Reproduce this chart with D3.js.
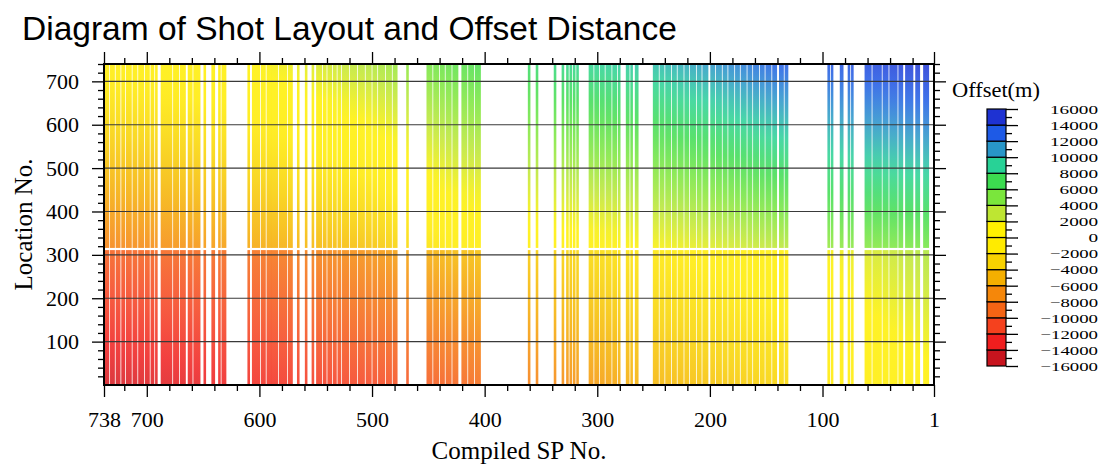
<!DOCTYPE html>
<html>
<head>
<meta charset="utf-8">
<script src="https://cdn.jsdelivr.net/npm/d3@7"></script>
<style>
body { margin: 0; background: #fff; }
text { font-family: "Liberation Serif", "Times New Roman", serif; fill: #000; }
.title { font-family: "Liberation Sans", Arial, sans-serif; }
</style>
</head>
<body>
<svg id="chart" width="1109" height="468"></svg>
<script>
// shots actually fired, as runs of consecutive SP numbers [first, last]
var shotRuns = [
    [738,734],[732,729],[727,724],[722,720],[718,714],[712,709],[707,703],[701,698],[696,694],[692,691],
    [687,678],[676,672],[670,666],[663,660],[658,653],
    [649,648],[642,640],[636,635],[633,630],
    [610,609],[606,600],[598,595],[593,590],[589,584],[582,576],[574,571],
    [566,565],[559,558],[553,552],
    [549,545],[543,541],[539,536],[534,532],[530,528],
    [526,521],[519,514],[512,507],[505,501],[499,496],[494,489],[487,483],[481,478],
    [469,468],
    [451,447],[445,441],[439,436],[434,430],[428,424],[420,416],[414,410],[408,404],
    [361,360],[354,353],
    [338,337],[331,330],[327,326],[324,323],[321,320],[318,317],
    [307,304],[302,299],[297,294],[292,288],[286,283],[281,280],[274,272],[270,269],[266,264],
    [250,246],[244,241],[239,235],[233,230],[228,224],[222,219],[217,213],[211,208],[206,202],
    [199,196],[194,190],[188,185],[183,179],[177,174],[172,168],[166,163],[161,157],[155,152],
    [150,146],[144,141],[138,135],[133,131],
    [95,94],[92,91],[84,82],[77,76],[74,73],
    [62,57],[55,48],[46,42],[40,34],[32,29],[26,20],[17,14],[10,6]
];

// offsets (m) read at a few SPs, at the bottom, either side of the location gap and the top
var anchorSP    = [738, 650, 600, 500, 430, 330, 260, 200, 140, 85, 30];
var offBottom   = [-14500, -13500, -12500, -11000, -9500, -7000, -5000, -4000, -3000, -1000, 0];
var offBelowGap = [-9500, -9000, -8500, -6500, -4500, -3000, -1500, -500, 500, 1500, 3000];
var offAboveGap = [-7500, -6500, -5500, -4000, -1000, 0, 1000, 2000, 3000, 4500, 5000];
var offTop      = [-500, 300, 1000, 3500, 6000, 8500, 9500, 11000, 13000, 13500, 14500];

var locRange = [0, 740];
var locGap = [311, 316];

var levelBounds = [-16000,-14000,-12000,-10000,-8000,-6000,-4000,-2000,0,2000,4000,6000,8000,10000,12000,14000,16000];
var levelColors = ['#c8141e','#f01e1e','#f5411e','#f56414','#f5870a','#f5af00','#f8d200','#ffeb00',
                   '#fff000','#bee632','#7ae63c','#3cdc50','#28d296','#2896c8','#1e5ae6','#1e32d2'];

var xTicks = [738, 700, 600, 500, 400, 300, 200, 100, 1];
var yTicks = [100, 200, 300, 400, 500, 600, 700];

var svg = d3.select("#chart");
var margin = {left: 104, right: 934, top: 64, bottom: 385};

var x = d3.scaleLinear().domain([738, 1]).range([margin.left, margin.right]);
var y = d3.scaleLinear().domain(locRange).range([margin.bottom, margin.top]);

var mids = levelColors.map(function(c, i) { return (levelBounds[i] + levelBounds[i + 1]) / 2; });
var color = d3.scaleLinear().domain(mids).range(levelColors).clamp(true);

var fB = d3.scaleLinear().domain(anchorSP).range(offBottom);
var fBG = d3.scaleLinear().domain(anchorSP).range(offBelowGap);
var fAG = d3.scaleLinear().domain(anchorSP).range(offAboveGap);
var fT = d3.scaleLinear().domain(anchorSP).range(offTop);

svg.append("text").attr("class", "title")
    .attr("x", 22).attr("y", 40)
    .style("font-size", "33.5px")
    .text("Diagram of Shot Layout and Offset Distance");

var defs = svg.append("defs");
var half = Math.abs(x(0) - x(1)) * 0.65;

// lines: each run gets two pieces (below and above the gap), shaded by offset
var segs = [];
shotRuns.forEach(function(r, i) {
    var mid = (r[0] + r[1]) / 2;
    segs.push({id: "g" + i + "a", run: r, lo: locRange[0], hi: locGap[0], o0: fB(mid), o1: fBG(mid)});
    segs.push({id: "g" + i + "b", run: r, lo: locGap[1], hi: locRange[1], o0: fAG(mid), o1: fT(mid)});
});

segs.forEach(function(s) {
    var g = defs.append("linearGradient").attr("id", s.id)
        .attr("x1", 0).attr("y1", 1).attr("x2", 0).attr("y2", 0);
    d3.range(0, 1.0001, 0.1).forEach(function(t) {
        g.append("stop").attr("offset", t).attr("stop-color", color(s.o0 + (s.o1 - s.o0) * t));
    });
});

svg.append("g").selectAll("rect").data(segs).join("rect")
    .attr("x", function(d) { return x(d.run[0]) - half; })
    .attr("width", function(d) { return x(d.run[1]) - x(d.run[0]) + 2 * half; })
    .attr("y", function(d) { return y(d.hi); })
    .attr("height", function(d) { return y(d.lo) - y(d.hi); })
    .attr("fill", function(d) { return "url(#" + d.id + ")"; })
    .attr("fill-opacity", 0.85);

// horizontal grid
svg.append("g").selectAll("line").data(yTicks).join("line")
    .attr("x1", margin.left).attr("x2", margin.right)
    .attr("y1", function(d) { return y(d); }).attr("y2", function(d) { return y(d); })
    .attr("stroke", "#3a3a3a").attr("stroke-width", 1.2);

var xMinor = d3.range(720, 0, -20).filter(function(d) { return d % 100 != 0; });
var yMinor = d3.range(20, 741, 20).filter(function(d) { return d % 100 != 0; });

function styleAxis(g) {
    g.select(".domain").remove();
    g.selectAll(".tick line").attr("stroke", "#000").attr("stroke-width", 1.3);
    g.selectAll("text").style("font-family", '"Liberation Serif", serif').style("font-size", "22px");
}

svg.append("g").attr("transform", "translate(0," + margin.bottom + ")")
    .call(d3.axisBottom(x).tickValues(xTicks).tickSize(12).tickPadding(14).tickFormat(d3.format("d")))
    .call(styleAxis);
svg.append("g").attr("transform", "translate(0," + margin.bottom + ")")
    .call(d3.axisBottom(x).tickValues(xMinor).tickSize(6).tickFormat(""))
    .call(styleAxis);
svg.append("g").attr("transform", "translate(0," + margin.top + ")")
    .call(d3.axisTop(x).tickValues(xTicks).tickSize(12).tickFormat(""))
    .call(styleAxis);
svg.append("g").attr("transform", "translate(0," + margin.top + ")")
    .call(d3.axisTop(x).tickValues(xMinor).tickSize(6).tickFormat(""))
    .call(styleAxis);

svg.append("g").attr("transform", "translate(" + margin.left + ",0)")
    .call(d3.axisLeft(y).tickValues(yTicks).tickSize(12).tickPadding(13))
    .call(styleAxis);
svg.append("g").attr("transform", "translate(" + margin.left + ",0)")
    .call(d3.axisLeft(y).tickValues(yMinor).tickSize(6).tickFormat(""))
    .call(styleAxis);
svg.append("g").attr("transform", "translate(" + margin.right + ",0)")
    .call(d3.axisRight(y).tickValues(yTicks).tickSize(12).tickFormat(""))
    .call(styleAxis);
svg.append("g").attr("transform", "translate(" + margin.right + ",0)")
    .call(d3.axisRight(y).tickValues(yMinor).tickSize(6).tickFormat(""))
    .call(styleAxis);

svg.append("rect")
    .attr("x", margin.left).attr("y", margin.top)
    .attr("width", margin.right - margin.left).attr("height", margin.bottom - margin.top)
    .attr("fill", "none").attr("stroke", "#000").attr("stroke-width", 2);

svg.append("text")
    .attr("x", (margin.left + margin.right) / 2).attr("y", 459)
    .attr("text-anchor", "middle").style("font-size", "25px")
    .text("Compiled SP No.");
svg.append("text")
    .attr("transform", "translate(32," + (margin.top + margin.bottom) / 2 + ") rotate(-90)")
    .attr("text-anchor", "middle").style("font-size", "25px")
    .text("Location No.");

// colour bar
var cb = {x: 987, w: 19, top: 109, bottom: 366};
var cy = d3.scaleLinear().domain([-16000, 16000]).range([cb.bottom, cb.top]);

svg.append("text").attr("x", 952).attr("y", 97).style("font-size", "20px")
    .attr("textLength", 88).attr("lengthAdjust", "spacingAndGlyphs")
    .text("Offset(m)");

svg.append("g").selectAll("rect").data(levelColors).join("rect")
    .attr("x", cb.x)
    .attr("y", function(d, i) { return cy(levelBounds[i + 1]); })
    .attr("width", cb.w)
    .attr("height", function(d, i) { return cy(levelBounds[i]) - cy(levelBounds[i + 1]); })
    .attr("fill", function(d) { return d; })
    .attr("stroke", "#000").attr("stroke-width", 1.2);

svg.append("g").attr("transform", "translate(" + (cb.x + cb.w) + ",0)")
    .call(d3.axisRight(cy).tickValues(levelBounds).tickSize(12).tickFormat(""))
    .call(styleAxis);
svg.append("g").attr("transform", "translate(" + (cb.x + cb.w) + ",0)")
    .call(d3.axisRight(cy).tickValues(mids).tickSize(6).tickFormat(""))
    .call(styleAxis);

var cbLabel = function(d) { return d < 0 ? "\u2212" + Math.abs(d) : String(d); };
svg.append("g").selectAll("text").data(levelBounds).join("text")
    .attr("x", 1098)
    .attr("y", function(d) { return cy(d); })
    .attr("dy", "0.36em")
    .attr("text-anchor", "end")
    .style("font-size", "13.5px")
    .attr("textLength", function(d) { return cbLabel(d).length * 9.6; })
    .attr("lengthAdjust", "spacingAndGlyphs")
    .text(cbLabel);
</script>
</body>
</html>
